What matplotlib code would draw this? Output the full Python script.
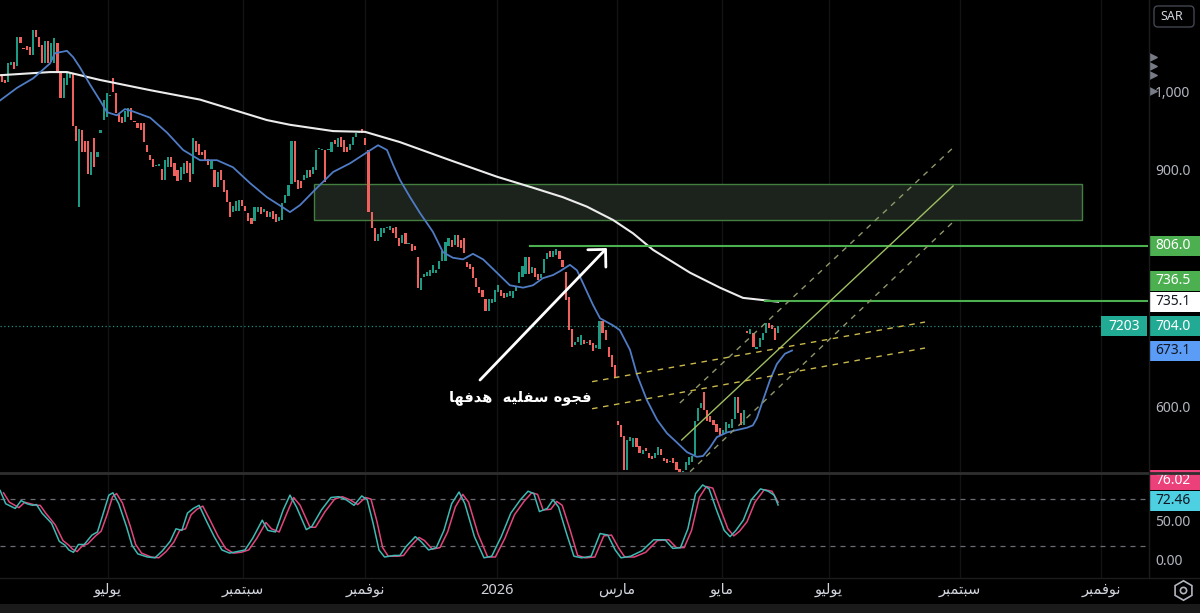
import matplotlib
matplotlib.use('Agg')
import matplotlib.pyplot as plt
from matplotlib.patches import Rectangle, FancyBboxPatch
from matplotlib.transforms import blended_transform_factory
import numpy as np

plt.rcParams['font.family'] = ['Noto Sans', 'DejaVu Sans']

# ---- candles (daily, open / close) ----
opens = [1025, 1017, 1014, 1036, 1040, 1035, 1072, 1058, 1060, 1059,
         1049, 1080, 1072, 1061, 1039, 1067, 1040, 1039, 1064, 1026,
         994, 1010, 1020, 1026, 958, 856, 953, 940, 940, 896,
         943, 919, 950, 966, 970, 996, 1019, 1001, 975, 970,
         964, 970, 981, 965, 962, 962, 962, 934, 922, 916,
         907, 908, 904, 890, 906, 919, 912, 903, 890, 897,
         914, 911, 898, 940, 935, 925, 928, 917, 904, 902,
         881, 902, 890, 877, 862, 849, 850, 851, 864, 857,
         848, 842, 838, 849, 855, 849, 851, 843, 850, 846,
         838, 839, 860, 869, 885, 940, 890, 888, 890, 893,
         902, 897, 902, 929, 928, 928, 928, 925, 941, 932,
         944, 941, 932, 928, 934, 944, 950, 955, 943, 928,
         849, 829, 812, 818, 822, 829, 826, 829, 830, 816,
         810, 822, 808, 809, 806, 792, 750, 766, 768, 768,
         772, 772, 777, 787, 787, 806, 814, 807, 820, 814,
         816, 785, 783, 779, 765, 754, 750, 739, 723, 733,
         735, 747, 750, 746, 741, 743, 740, 749, 759, 766,
         770, 792, 772, 778, 770, 765, 772, 790, 800, 792,
         795, 800, 788, 773, 741, 701, 680, 684, 680, 686,
         683, 686, 683, 676, 675, 711, 699, 677, 667, 655,
         584, 578, 564, 521, 558, 550, 562, 552, 542, 549,
         543, 539, 537, 540, 548, 536, 535, 532, 536, 531,
         523, 518, 521, 528, 531, 540, 584, 600, 620, 597,
         590, 585, 580, 574, 566, 570, 575, 575, 586, 614,
         594, 578, 697, 694, 696, 675, 677, 686, 695, 708,
         706, 702, 695]
closes = [1015, 1013, 1038, 1040, 1031, 1072, 1064, 1056, 1055, 1049,
          1080, 1072, 1059, 1038, 1066, 1039, 1064, 1070, 1026, 994,
          1019, 1026, 1026, 958, 940, 955, 925, 925, 897, 925,
          906, 925, 953, 991, 1001, 998, 1002, 975, 964, 962,
          978, 981, 966, 963, 956, 954, 938, 925, 915, 906,
          909, 910, 890, 915, 919, 906, 895, 889, 906, 912,
          899, 887, 943, 925, 921, 922, 915, 909, 915, 881,
          900, 890, 875, 862, 843, 857, 863, 864, 857, 850,
          838, 834, 855, 855, 846, 853, 843, 849, 840, 837,
          843, 860, 871, 883, 940, 887, 879, 880, 896, 903,
          894, 906, 928, 931, 929, 887, 929, 938, 935, 943,
          932, 925, 925, 936, 944, 950, 952, 950, 934, 849,
          829, 812, 821, 829, 829, 830, 831, 822, 816, 806,
          820, 809, 810, 800, 801, 753, 765, 770, 773, 775,
          782, 775, 787, 800, 811, 816, 805, 820, 805, 803,
          797, 779, 777, 765, 754, 746, 741, 723, 738, 738,
          750, 756, 743, 740, 746, 749, 749, 755, 773, 780,
          792, 770, 779, 767, 763, 770, 790, 797, 792, 800,
          802, 789, 779, 737, 699, 677, 684, 690, 693, 682,
          684, 680, 673, 680, 711, 695, 686, 665, 652, 639,
          578, 563, 521, 560, 563, 562, 550, 543, 547, 545,
          537, 535, 543, 550, 540, 533, 530, 533, 530, 521,
          518, 520, 531, 538, 539, 584, 600, 607, 597, 584,
          582, 579, 569, 565, 572, 582, 580, 586, 614, 594,
          578, 597, 696, 701, 677, 678, 689, 696, 708, 702,
          700, 687, 704]

# ---- moving averages (bar index, price) ----
ma_slow_x = [-0.6, 15.6, 21.1, 31.8, 48.1, 64.3, 86, 93.5, 107.5, 117.9, 129.2,
             145.5, 160.7, 172.4, 182.1, 189.9, 198.4, 204.9, 211.4, 223.4,
             233.1, 240.6, 252]
ma_slow = [1023, 1027, 1027, 1017, 1004, 992, 966, 960, 952, 951, 938,
           915, 894, 880, 868, 856, 839, 822, 801, 772,
           753, 740, 735.1]
ma_fast_x = [-0.6, 4.9, 10.1, 15.6, 17.2, 21.1, 23.1, 25.3, 28.6, 31.8, 34.1,
             37.3, 39.9, 42.5, 48.1, 53.6, 58.8, 64.3, 69.8, 75, 80.5, 86,
             91.2, 93.5, 96.8, 102.3, 107.5, 113, 118.5, 122.1, 125, 127,
             129.2, 132.5, 135.7, 139.9, 143.2, 146.4, 149.7, 152.9, 156.2,
             160.7, 164.9, 169.2, 172.4, 175.6, 178.9, 181.2, 184.4, 186.7,
             188.6, 191.9, 194.2, 198.4, 200.6, 203.9, 206.2, 209.4, 212.7,
             215.9, 219.2, 222.4, 225.6, 227.6, 229.9, 232.1, 235.4, 238.6,
             241.9, 243.8, 245.1, 247.1, 249.4, 251.6, 254.2, 256.5]
ma_fast = [991, 1007, 1019, 1038, 1051, 1054, 1046, 1033, 1011, 991, 976,
           972, 980, 977, 969, 950, 928, 915, 915, 906, 886, 868,
           855, 849, 858, 880, 900, 911, 925, 934, 928, 909,
           890, 868, 848, 824, 798, 791, 789, 796, 789,
           772, 756, 753, 756, 765, 769, 774, 782, 775,
           759, 731, 714, 705, 699, 674, 642, 610, 585,
           568, 556, 544, 538, 539, 550, 563, 569, 572,
           575, 578, 587, 610, 636, 656, 669, 673.1]

# ---- stoch oscillator ----
osc_k_x = [-0.6, 1.2, 4.3, 6.2, 8.1, 9.9, 11.2, 13, 16.1, 18.6, 20.5, 21.7,
           23.2, 24.8, 26.7, 29.2, 31, 32.9, 34.7, 36, 37.9, 40.4, 42.2, 44.1,
           47.2, 49.7, 52.1, 54.6, 56.5, 58.4, 60.2, 62.1, 64, 66.5, 68.9,
           71.4, 73.9, 76.4, 78.9, 81.4, 84.5, 86.3, 88.8, 91.3, 93.5, 95.6,
           98.8, 100.6, 103.7, 106.8, 109.3, 111.8, 114.3, 116.8, 118.6,
           120.5, 122.4, 124.2, 127.3, 129.2, 131.1, 134.2, 136, 138.5, 141,
           143.5, 146, 148.4, 150.3, 153.4, 156.5, 159, 162.1, 165.2, 168.3,
           170.8, 172.7, 174.5, 177, 178.9, 180.7, 183.3, 185.7, 188.2,
           191.3, 194.2, 196.7, 199.1, 201, 204.1, 207.8, 211.6, 215.3,
           217.8, 220.3, 222.7, 225.2, 227.5, 229.6, 232, 234.5, 236.4,
           238.3, 240.7, 243.3, 246.3, 248.8, 250.7, 252]
osc_k = [91, 74, 68, 78, 74, 72, 73, 62, 49, 26, 21, 15,
         12, 22, 22, 34, 38, 62, 85, 88, 74, 45, 21, 10,
         6, 5, 14, 26, 42, 40, 62, 68, 72, 51, 32,
         15, 11, 13, 15, 30, 53, 40, 38, 66, 85, 70,
         41, 45, 66, 82, 83, 79, 72, 84, 79,
         49, 15, 6, 8, 8, 19, 32, 26, 15, 18,
         40, 74, 89, 74, 32, 5, 7, 32, 62, 79,
         90, 87, 64, 68, 79, 70, 36, 7, 5,
         7, 36, 34, 15, 5, 7, 14, 28, 28,
         17, 18, 42, 87, 98, 93, 66, 40, 32,
         40, 53, 79, 93, 90, 85, 72.46]
osc_d_x = [0.5, 2.4, 5.5, 7.4, 9.3, 11.1, 12.4, 14.2, 17.3, 19.8, 21.7, 22.9,
           24.4, 26, 27.9, 30.4, 32.2, 34.1, 35.9, 37.2, 39.1, 41.6, 43.4,
           45.3, 48.4, 50.9, 53.3, 55.8, 57.7, 59.6, 61.4, 63.3, 65.2, 67.7,
           70.1, 72.6, 75.1, 77.6, 80.1, 82.6, 85.7, 87.5, 90, 92.5, 94.7,
           96.8, 100, 101.8, 104.9, 108, 110.5, 113, 115.5, 118, 119.8,
           121.7, 123.6, 125.4, 128.5, 130.4, 132.3, 135.4, 137.2, 139.7,
           142.2, 144.7, 147.2, 149.6, 151.5, 154.6, 157.7, 160.2, 163.3,
           166.4, 169.5, 172, 173.9, 175.7, 178.2, 180.1, 181.9, 184.5,
           186.9, 189.4, 192.5, 195.4, 197.9, 200.3, 202.2, 205.3, 209,
           212.8, 216.5, 219, 221.5, 223.9, 226.4, 228.7, 230.8, 233.2,
           235.7, 237.6, 239.5, 241.9, 244.5, 247.5, 250, 252]
osc_d = [88, 76, 69, 76, 74, 72, 72, 62, 47, 27, 21, 16,
         13, 20, 23, 33, 39, 60, 83, 87, 75, 46, 22,
         11, 6, 5, 13, 25, 40, 42, 60, 67, 71, 52,
         33, 17, 11, 12, 15, 29, 50, 42, 38, 62, 82,
         72, 44, 44, 64, 80, 83, 79, 73, 82, 80,
         52, 18, 7, 7, 8, 18, 31, 27, 16,
         18, 38, 70, 86, 76, 35, 6, 6, 30,
         60, 77, 88, 86, 66, 67, 77, 72, 40,
         8, 5, 6, 33, 34, 17, 6, 6, 12,
         27, 28, 18, 18, 40, 82, 96, 94, 68,
         42, 33, 39, 51, 76, 92, 90, 76.02]

# ---- drawings ----
zone = (101.3, 350.6, 839, 884.7)          # x0, x1, low, high
res_line = (171.4, 806.0)
ma_line = (247.7, 736.5)
last_price = 704.0
chan_mid = [(220.7, 559.4), (308.8, 882.2)]
chan_up = [(220.1, 606.4), (309.4, 933.0)]
chan_lo = [(223.4, 519.1), (308.8, 836.4)]
flat_a = [(191.6, 633.5), (299.7, 709.3)]
flat_b = [(191.6, 599.1), (299.7, 676.3)]
arrow_from = (155.2, 635.6)
arrow_to = (196.4, 803.4)
note_text = 'فجوه سفليه  هدفها'
note_pos = (168.2, 614)

month_pos = [-4.5, 34.4, 78.2, 117.9, 160.7, 199.7, 233.8, 268.5, 311, 356.8]
month_names = ['مايو', 'يوليو', 'سبتمبر', 'نوفمبر', '2026', 'مارس', 'مايو',
               'يوليو', 'سبتمبر', 'نوفمبر']

GREEN = '#1d9a83'
RED = '#f0605d'
TXT = '#b2b5be'

# arabic letters -> (isolated, final, initial, medial)
FORMS = {
    'ا': ('\ufe8d', '\ufe8e', None, None),
    'ب': ('\ufe8f', '\ufe90', '\ufe91', '\ufe92'),
    'ت': ('\ufe95', '\ufe96', '\ufe97', '\ufe98'),
    'ج': ('\ufe9d', '\ufe9e', '\ufe9f', '\ufea0'),
    'د': ('\ufea9', '\ufeaa', None, None),
    'ر': ('\ufead', '\ufeae', None, None),
    'س': ('\ufeb1', '\ufeb2', '\ufeb3', '\ufeb4'),
    'ف': ('\ufed1', '\ufed2', '\ufed3', '\ufed4'),
    'ل': ('\ufedd', '\ufede', '\ufedf', '\ufee0'),
    'م': ('\ufee1', '\ufee2', '\ufee3', '\ufee4'),
    'ن': ('\ufee5', '\ufee6', '\ufee7', '\ufee8'),
    'ه': ('\ufee9', '\ufeea', '\ufeeb', '\ufeec'),
    'و': ('\ufeed', '\ufeee', None, None),
    'ي': ('\ufef1', '\ufef2', '\ufef3', '\ufef4'),
}


def shape(s):
    # join arabic letters and put them in visual (right-to-left) order
    if not any(ch in FORMS for ch in s):
        return s
    res = []
    for k, ch in enumerate(s):
        if ch not in FORMS:
            res.append(ch)
            continue
        iso, fin, ini, med = FORMS[ch]
        prev = s[k - 1] if k > 0 else ''
        nxt = s[k + 1] if k + 1 < len(s) else ''
        join_prev = prev in FORMS and FORMS[prev][2] is not None
        join_next = ini is not None and nxt in FORMS
        if join_prev and join_next:
            res.append(med)
        elif join_prev:
            res.append(fin)
        elif join_next:
            res.append(ini)
        else:
            res.append(iso)
    return ''.join(reversed(res))


W, H = 1200, 613
fig = plt.figure(figsize=(12, 6.13), dpi=100, facecolor='black')


def frac(x0, y0, x1, y1):
    return [x0 / W, 1 - y1 / H, (x1 - x0) / W, (y1 - y0) / H]


XLIM = (-0.65, 372.1)
YLIM = (518.7, 1118.6)
OLIM = (-20.8, 112.0)

ax = fig.add_axes(frac(0, 0, 1148, 472))
ax2 = fig.add_axes(frac(0, 474, 1148, 578))
for a in (ax, ax2):
    a.set_facecolor('black')
    a.set_xlim(*XLIM)
    for s in a.spines.values():
        s.set_visible(False)
    a.set_xticks([])
    a.set_yticks([])
    for p in month_pos:
        a.axvline(p, color='#131313', lw=1, zorder=0)
ax.set_ylim(*YLIM)
ax2.set_ylim(*OLIM)

# zone box
ax.add_patch(Rectangle((zone[0], zone[2]), zone[1] - zone[0], zone[3] - zone[2],
                       fc='#1c231c', ec='#43803f', lw=1, zorder=1))

# candles
o = np.array(opens, dtype=float)
c = np.array(closes, dtype=float)
idx = np.arange(len(o))
cols = np.where(c >= o, GREEN, RED)
ax.bar(idx, np.maximum(np.abs(c - o), 1.3), bottom=np.minimum(o, c), width=0.7,
       color=cols, linewidth=0, zorder=3)

# moving averages
ax.plot(ma_slow_x, ma_slow, color='#ececec', lw=1.5, zorder=4)
ax.plot(ma_fast_x, ma_fast, color='#4f7cc4', lw=1.3, zorder=4)

# horizontal levels
ax.plot([res_line[0], XLIM[1]], [res_line[1]] * 2, color='#4caf50', lw=1.5, zorder=4)
ax.plot([ma_line[0], XLIM[1]], [ma_line[1]] * 2, color='#4caf50', lw=1.5, zorder=4)
ax.axhline(last_price, color='#1f8f7e', lw=0.9, ls=(0, (1, 2)), zorder=2)

# channel + trend lines
for seg, col, ls in [(chan_mid, '#9fbf62', '-'), (chan_up, '#8d9867', (0, (4, 4))),
                     (chan_lo, '#8d9867', (0, (4, 4))), (flat_a, '#c9b94c', (0, (4, 4))),
                     (flat_b, '#c9b94c', (0, (4, 4)))]:
    ax.plot([seg[0][0], seg[1][0]], [seg[0][1], seg[1][1]], color=col, lw=1, ls=ls, zorder=4)

ax.annotate('', xy=arrow_to, xytext=arrow_from,
            arrowprops=dict(arrowstyle='->,head_length=0.9,head_width=0.9', color='white',
                            lw=2, shrinkA=0, shrinkB=0), zorder=5)
ax.text(note_pos[0], note_pos[1], shape(note_text), color='white', fontsize=10.5,
        fontweight='bold', ha='center', va='center', family='DejaVu Sans', zorder=5)

# oscillator
ax2.axhline(80, color='#6a6d76', lw=0.9, ls=(0, (4, 4)))
ax2.axhline(20, color='#6a6d76', lw=0.9, ls=(0, (4, 4)))
ax2.plot(osc_d_x, osc_d, color='#e2457c', lw=1.1)
ax2.plot(osc_k_x, osc_k, color='#3fb9b3', lw=1.1)

# month labels
bt = blended_transform_factory(ax2.transData, ax2.transAxes)
for p, name in zip(month_pos, month_names):
    ax2.text(p, -0.12, shape(name), transform=bt, color='#d1d4dc', fontsize=10.5,
             ha='center', va='center', clip_on=False,
             fontweight='bold' if name == '2026' else 'normal')

# ---- price scale ----
axs = fig.add_axes(frac(1100, 0, 1200, 472))
axs.set_xlim(1100, 1200)
axs.set_ylim(*YLIM)
axs.axis('off')
axo2 = fig.add_axes(frac(1100, 474, 1200, 578))
axo2.set_xlim(1100, 1200)
axo2.set_ylim(*OLIM)
axo2.axis('off')

PX_MAIN = (YLIM[1] - YLIM[0]) / 472
PX_OSC = (OLIM[1] - OLIM[0]) / 104


def tag(a, val, text, fc, tc, px, dy=0, x0=1150, w=50, ha='left'):
    yc = val + dy * px
    a.add_patch(Rectangle((x0, yc - 10 * px), w, 20 * px, fc=fc, ec='none', clip_on=False))
    tx = x0 + 5 if ha == 'left' else x0 + w / 2
    a.text(tx, yc, text, color=tc, fontsize=10, ha=ha, va='center', clip_on=False)


for v, t in [(1000, '1,000'), (900, '900.0'), (600, '600.0')]:
    axs.text(1155, v, t, color=TXT, fontsize=10, va='center', ha='left')
tag(axs, 806.0, '806.0', '#4caf50', 'white', PX_MAIN)
tag(axs, 736.5, '736.5', '#4caf50', 'white', PX_MAIN, dy=20)
tag(axs, 735.1, '735.1', '#ffffff', '#131722', PX_MAIN)
tag(axs, 704.0, '704.0', '#22ab94', 'white', PX_MAIN)
tag(axs, 704.0, '7203', '#22ab94', 'white', PX_MAIN, x0=1101, w=46, ha='center')
tag(axs, 673.1, '673.1', '#5b9cf6', '#131722', PX_MAIN)

for v, t in [(50, '50.00'), (0, '0.00')]:
    axo2.text(1155, v, t, color=TXT, fontsize=10, va='center', ha='left')
tag(axo2, 76.02, '76.02', '#ec407a', 'white', PX_OSC, dy=22)
tag(axo2, 72.46, '72.46', '#4dd0e1', '#131722', PX_OSC, dy=4)

# ---- chrome in pixel coords ----
axp = fig.add_axes([0, 0, 1, 1])
axp.set_xlim(0, W)
axp.set_ylim(H, 0)
axp.axis('off')
axp.patch.set_alpha(0)
axp.plot([0, W], [472.5, 472.5], color='#2f2f2f', lw=2)
axp.plot([0, W], [578, 578], color='#1c1c1c', lw=1)
axp.plot([1148.5, 1148.5], [0, 578], color='#1c1c1c', lw=1)
axp.add_patch(Rectangle((0, 604), W, 9, fc='#1a1a1a', ec='none'))
axp.add_patch(FancyBboxPatch((1154, 6), 40, 21, boxstyle='round,pad=0,rounding_size=4',
                             fc='black', ec='#434651', lw=1))
axp.text(1160, 16.5, 'SAR', color='#d1d4dc', fontsize=9, va='center', ha='left')
axp.scatter([1153, 1153, 1153, 1153], [57, 66, 75, 91], marker='>', s=28, color='#787b86')
axp.plot(1183, 590, marker='h', ms=14, mfc='none', mec='#b2b5be', mew=1.2)
axp.plot(1183, 590, marker='o', ms=4.5, mfc='none', mec='#b2b5be', mew=1.2)

fig.savefig('out.png', dpi=100, facecolor='black')
